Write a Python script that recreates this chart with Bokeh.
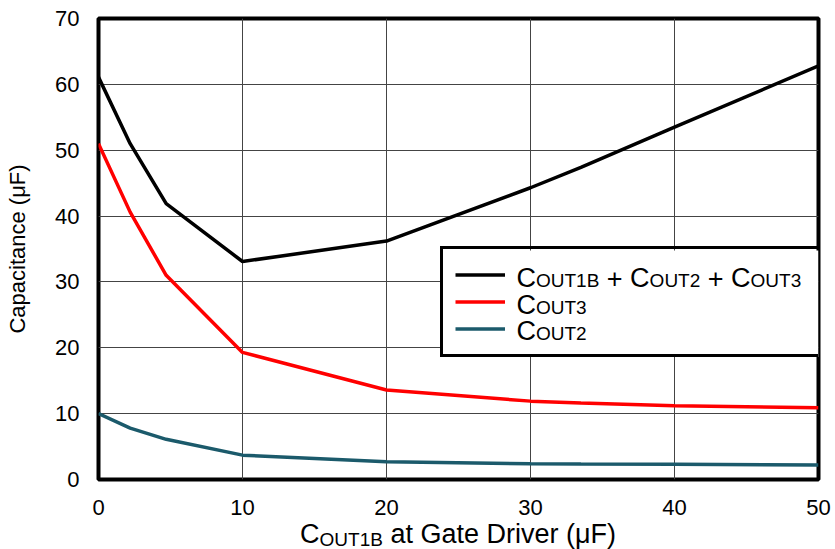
from bokeh.plotting import figure
from bokeh.layouts import column
from bokeh.models import Label, Legend, LegendItem, FixedTicker, BoxAnnotation
from bokeh.embed import file_html
from bokeh.resources import INLINE

# ---- data ----
x_vals = [0, 2.2, 4.7, 10, 20, 30, 33.5, 40, 50]
total_vals = [61.1, 51.0, 41.9, 33.1, 36.2, 44.3, 47.4, 53.5, 62.8]
cout3_vals = [51.0, 40.6, 31.0, 19.3, 13.6, 11.9, 11.6, 11.2, 10.9]
cout2_vals = [10.0, 7.8, 6.1, 3.7, 2.7, 2.4, 2.35, 2.3, 2.2]
x_ticks = [0, 10, 20, 30, 40, 50]
y_ticks = [0, 10, 20, 30, 40, 50, 60, 70]

FONT = "Liberation Sans"
W_FIG, H_FIG, H_TITLE = 835, 521, 28
B_L, B_R, B_T, B_B = 98, 17, 18, 42
FRAME_W = W_FIG - B_L - B_R
FRAME_H = H_FIG - B_T - B_B

p = figure(width=W_FIG, height=H_FIG, x_range=(0, 50), y_range=(0, 70),
           output_backend="svg", toolbar_location=None,
           min_border_left=B_L, min_border_right=B_R,
           min_border_top=B_T, min_border_bottom=B_B)
p.background_fill_color = "white"
p.border_fill_color = "white"
p.outline_line_color = "black"
p.outline_line_width = 4
p.outline_line_alpha = 1.0

for ax in (p.xaxis[0], p.yaxis[0]):
    ax.axis_line_color = None
    ax.major_tick_line_color = None
    ax.minor_tick_line_color = None
    ax.major_label_text_font = FONT
    ax.major_label_text_font_size = "22px"
    ax.major_label_text_color = "black"
p.xaxis[0].ticker = FixedTicker(ticks=x_ticks)
p.yaxis[0].ticker = FixedTicker(ticks=y_ticks)
p.xaxis[0].major_label_standoff = 14
p.yaxis[0].major_label_standoff = 13
p.yaxis[0].axis_label = "Capacitance (\u03bcF)"
p.yaxis[0].axis_label_text_font = FONT
p.yaxis[0].axis_label_text_font_size = "22px"
p.yaxis[0].axis_label_text_font_style = "normal"
p.yaxis[0].axis_label_text_color = "black"
p.yaxis[0].axis_label_standoff = 22
p.xgrid[0].ticker = FixedTicker(ticks=x_ticks)
p.ygrid[0].ticker = FixedTicker(ticks=y_ticks)
for g in (p.xgrid[0], p.ygrid[0]):
    g.grid_line_color = "#444444"
    g.grid_line_width = 1
    g.grid_line_alpha = 1.0

r_tot = p.line(x_vals, total_vals, line_color="black", line_width=3.5)
r_c3 = p.line(x_vals, cout3_vals, line_color="#ff0000", line_width=3.5)
r_c2 = p.line(x_vals, cout2_vals, line_color="#1b5a6b", line_width=3.5)

# ---- pixel helpers for text/legend layout ----
ppx = FRAME_W / 50.0
ppy = FRAME_H / 70.0

def px2x(px):
    return (px - B_L) / ppx

def py2y(py):
    return (B_T + FRAME_H - py) / ppy

# white underlay for the legend box
p.add_layout(BoxAnnotation(left=px2x(440), right=50, top=py2y(250), bottom=py2y(356.5),
                           fill_color="white", fill_alpha=1.0, line_color=None))

ADV = {"C": 722, "O": 778, "U": 722, "T": 611, "B": 667, "1": 556, "2": 556,
       "3": 556, " ": 278, "+": 584, "a": 556, "t": 278, "G": 778, "e": 556,
       "D": 722, "r": 333, "i": 222, "v": 500, "(": 333, "\u03bc": 576,
       "F": 611, ")": 333}
BASE_SHIFT = 0.35  # em offset observed between the anchor and the rendered baseline

def width(t, size):
    return sum(ADV.get(c, 556) for c in t) * size / 1000.0

def rich(fig, segments, x0, y0, fy, align="left"):
    tot = sum(width(t, s) for t, s, dy in segments)
    cur = x0 - tot / 2.0 if align == "center" else x0
    for t, s, dy in segments:
        lead = len(t) - len(t.lstrip(" "))
        st = t.strip(" ")
        xs = cur + width(" " * lead, s)
        if st:
            fig.add_layout(Label(x=px2x(xs), y=fy(y0 + dy - BASE_SHIFT * s), text=st,
                                 text_font=FONT, text_font_size=f"{s}px",
                                 text_color="black", text_baseline="alphabetic",
                                 text_align="left"))
        cur += width(t, s)

BIG, SUB = 27, 19
rich(p, [("C", BIG, 0), ("OUT1B", SUB, 0), (" + ", BIG, 0), ("C", BIG, 0), ("OUT2", SUB, 0),
         (" + ", BIG, 0), ("C", BIG, 0), ("OUT3", SUB, 0)], 516, 287, py2y)
rich(p, [("C", BIG, 0), ("OUT3", SUB, 0)], 516, 313.5, py2y)
rich(p, [("C", BIG, 0), ("OUT2", SUB, 0)], 516, 340, py2y)

legend = Legend(items=[LegendItem(label=" ", renderers=[r_tot]),
                       LegendItem(label=" ", renderers=[r_c3]),
                       LegendItem(label=" ", renderers=[r_c2])],
                location=(342, 122), margin=0, padding=12, spacing=0,
                glyph_width=50, glyph_height=27, label_height=27,
                label_width=289, label_standoff=15,
                label_text_font_size="1px",
                border_line_color="black", border_line_width=3, border_line_alpha=1.0,
                background_fill_alpha=0.0)
p.add_layout(legend)

# ---- x-axis title strip (separate figure, frame aligned with the plot's frame) ----
t = figure(frame_width=FRAME_W, frame_height=H_TITLE, x_range=p.x_range, y_range=(0, H_TITLE),
           output_backend="svg", toolbar_location=None, title=None,
           x_axis_location=None, y_axis_location=None,
           min_border_left=B_L, min_border_right=B_R, min_border_top=0, min_border_bottom=0)
t.outline_line_color = None
t.background_fill_color = "white"
t.border_fill_color = "white"
t.grid.visible = False

rich(t, [("C", BIG, 0), ("OUT1B", SUB, 3), (" at Gate Driver (\u03bcF)", BIG, 0)],
     457.5, 543, lambda py: H_FIG + H_TITLE - py, align="center")

open("out.html", "w").write(file_html(column(p, t, spacing=0), INLINE))
